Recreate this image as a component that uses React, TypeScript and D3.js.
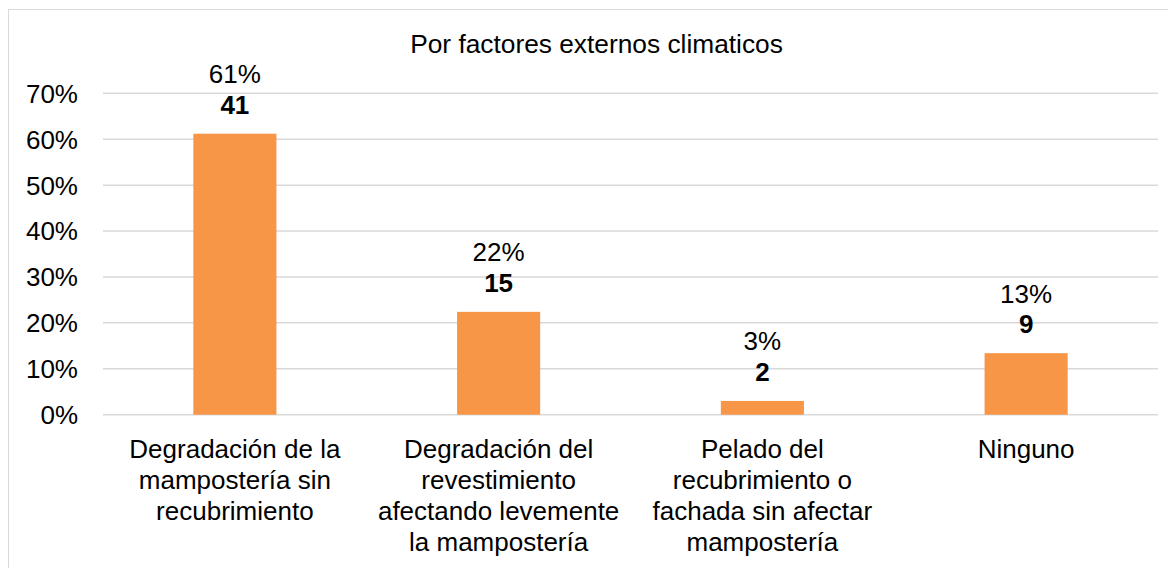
import React from "react";
import * as d3 from "d3";

const title = "Por factores externos climaticos";
const categories = [
  "Degradación de la mampostería sin recubrimiento",
  "Degradación del revestimiento afectando levemente la mampostería",
  "Pelado del recubrimiento o fachada sin afectar mampostería",
  "Ninguno",
];
const categoryLines = [
  ["Degradación de la", "mampostería sin", "recubrimiento"],
  ["Degradación del", "revestimiento", "afectando levemente", "la mampostería"],
  ["Pelado del", "recubrimiento o", "fachada sin afectar", "mampostería"],
  ["Ninguno"],
];
const shares = [0.612, 0.224, 0.03, 0.134];
const shareLabels = ["61%", "22%", "3%", "13%"];
const counts = [41, 15, 2, 9];
const yTicks = [0, 0.1, 0.2, 0.3, 0.4, 0.5, 0.6, 0.7];

const W = 1168;
const H = 560;
const FONT = "'Liberation Sans', Arial, Helvetica, sans-serif";

export default function App() {
  const x = d3.scaleBand<string>().domain(categories).range([95, 1150]).padding(0);
  const y = d3.scaleLinear().domain([0, 0.7]).range([406.7, 85.3]);
  const barW = x.bandwidth() * 0.315;
  const fmt = d3.format(".0%");

  return (
    <svg width={W} height={H} style={{ display: "block", fontFamily: FONT }}>
      <rect x={0} y={0} width={W} height={H} fill="#fff" />
      <rect x={0.5} y={1.5} width={W - 1} height={H + 20} fill="none" stroke="#d9d9d9" strokeWidth={1} />
      <text x={588.5} y={45} textAnchor="middle" fontSize={26.3} fill="#000">
        {title}
      </text>
      {yTicks.map((t) => (
        <g key={t}>
          <line x1={95} x2={1150} y1={y(t)} y2={y(t)} stroke="#d9d9d9" strokeWidth={1.5} />
          <text x={70} y={y(t) + 9.4} textAnchor="end" fontSize={26} fill="#000">
            {fmt(t)}
          </text>
        </g>
      ))}
      {categories.map((c, i) => {
        const cx = (x(c) as number) + x.bandwidth() / 2;
        const top = y(shares[i]);
        return (
          <g key={c}>
            <rect x={cx - barW / 2} y={top} width={barW} height={y(0) - top} fill="#f79646" />
            <text x={cx} y={top - 50.6} textAnchor="middle" fontSize={26} fill="#000">
              {shareLabels[i]}
            </text>
            <text x={cx} y={top - 20} textAnchor="middle" fontSize={26} fontWeight="bold" fill="#000">
              {counts[i]}
            </text>
            {categoryLines[i].map((ln, j) => (
              <text key={j} x={cx} y={449.5 + j * 31} textAnchor="middle" fontSize={26} fill="#000">
                {ln}
              </text>
            ))}
          </g>
        );
      })}
    </svg>
  );
}
